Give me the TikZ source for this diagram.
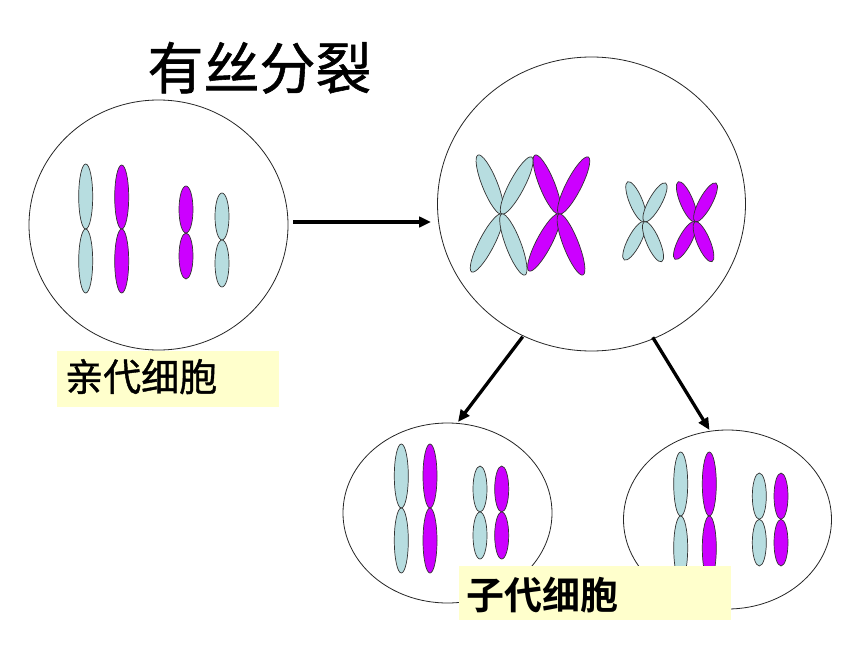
\documentclass[tikz,border=0pt]{standalone}
\usepackage{fontspec}
\newfontfamily\cjk{Noto Sans CJK SC}
\newfontfamily\cjkt[FakeBold=1]{Noto Sans CJK SC}
\newfontfamily\cjkb{Noto Sans CJK SC Bold}
\usetikzlibrary{shapes.geometric,arrows.meta}
\definecolor{chrcyan}{HTML}{B7DDE0}
\definecolor{chrmag}{HTML}{CC00FF}
\definecolor{labelbg}{HTML}{FFFFCC}
\newcommand\chromv[5]{%
  \pgfmathsetmacro\cvA{(#3+#4)/2}\pgfmathsetmacro\cvB{(#4-#3)/2}%
  \pgfmathsetmacro\cvC{(#4+#5)/2}\pgfmathsetmacro\cvD{(#5-#4)/2}%
  \draw[#1] (#2,\cvA) ellipse [x radius=7pt, y radius=\cvB pt];
  \draw[#1] (#2,\cvC) ellipse [x radius=7pt, y radius=\cvD pt];}
\newcommand\chromarm[6]{%
  \pgfmathsetmacro\caMx{(#2+#4)/2}\pgfmathsetmacro\caMy{(#3+#5)/2}%
  \pgfmathsetmacro\caL{veclen(#4-#2,#5-#3)/2}%
  \pgfmathsetmacro\caA{atan2(-(#5-#3),#4-#2)}%
  \draw[#1] (\caMx,\caMy) ellipse [x radius=\caL pt, y radius=#6pt, rotate=\caA];}
\begin{document}
\begin{tikzpicture}[x=1pt,y=-1pt,
  cell/.style={ellipse,draw=black!85,line width=0.8pt,inner sep=0pt,fill=white},
  cy/.style={fill=chrcyan,draw=black!80,line width=0.7pt},
  mg/.style={fill=chrmag,draw=black!80,line width=0.7pt},
  arrowline/.style={line width=3.3pt,-{Triangle[length=12pt,width=10.5pt]}},
  labelbox/.style={fill=labelbg,inner sep=0pt,anchor=north west},
  labeltext/.style={anchor=base west,inner sep=0pt}]
\useasboundingbox (0,0) rectangle (860,645);
\fill[white] (0,0) rectangle (860,645);

% title
\node[anchor=base,inner sep=0pt,font=\cjkt\fontsize{56}{56}\selectfont] (title) at (259.5,89) {有丝分裂};

% cells
\node[cell,minimum width=259pt,minimum height=250pt] (parent) at (158.5,225) {};
\node[cell,minimum width=308pt,minimum height=294pt] (meta) at (591.5,204) {};
\node[cell,minimum width=209pt,minimum height=180pt] (dleft) at (447.5,513) {};
\node[cell,minimum width=208pt,minimum height=179pt] (dright) at (727.5,519.5) {};

% parent chromosomes
\chromv{cy}{85.7}{164}{229}{293}
\chromv{mg}{121.7}{165}{229}{293}
\chromv{mg}{186}{186}{233}{279}
\chromv{cy}{222}{193}{240}{287}

% metaphase X chromosomes
\chromarm{cy}{501.7}{214}{478}{155}{7.6}
\chromarm{cy}{501.7}{214}{531.7}{157}{7.6}
\chromarm{cy}{501.7}{214}{471.7}{272}{7.6}
\chromarm{cy}{501.7}{214}{525}{275}{7.6}
\chromarm{mg}{559}{214}{535}{155}{7.6}
\chromarm{mg}{559}{214}{588.3}{157}{7.6}
\chromarm{mg}{559}{214}{529}{271}{7.6}
\chromarm{mg}{559}{214}{583}{275}{7.6}
\chromarm{cy}{644.3}{221.7}{627.7}{181.7}{6.5}
\chromarm{cy}{644.3}{221.7}{665.7}{183}{6.5}
\chromarm{cy}{644.3}{221.7}{624.3}{260}{6.5}
\chromarm{cy}{644.3}{221.7}{661.7}{261.7}{6.5}
\chromarm{mg}{695}{221.7}{678.3}{181.7}{6.5}
\chromarm{mg}{695}{221.7}{716}{183}{6.5}
\chromarm{mg}{695}{221.7}{675}{259.3}{6.5}
\chromarm{mg}{695}{221.7}{712}{261.7}{6.5}

% daughter chromosomes
\chromv{cy}{401.3}{444}{508}{573}
\chromv{mg}{430}{444}{508}{573}
\chromv{cy}{480}{466}{512}{559}
\chromv{mg}{501.7}{466}{512}{559}
\chromv{cy}{680.7}{452}{516}{580}
\chromv{mg}{709.3}{452}{516}{580}
\chromv{cy}{759.3}{473}{519.3}{566}
\chromv{mg}{781}{473}{519.3}{566}

% arrows
\coordinate (h1) at (293,222);
\coordinate (h2) at (431,222);
\coordinate (d1s) at (522.7,336.7);
\coordinate (d1e) at (458,422);
\coordinate (d2s) at (652.7,337.3);
\coordinate (d2e) at (709.5,430);
\draw[arrowline] (h1) -- (h2);
\draw[arrowline] (d1s) -- (d1e);
\draw[arrowline] (d2s) -- (d2e);

% labels
\node[labelbox,minimum width=222pt,minimum height=56pt] (lab1box) at (57,351) {};
\node[labeltext,font=\cjkt\fontsize{38}{38}\selectfont] (lab1) at (65,391) {亲代细胞};
\node[labelbox,minimum width=272pt,minimum height=53.5pt] (lab2box) at (459,566) {};
\node[labeltext,font=\cjkb\fontsize{38}{38}\selectfont] (lab2) at (466,609) {子代细胞};
\end{tikzpicture}
\end{document}
